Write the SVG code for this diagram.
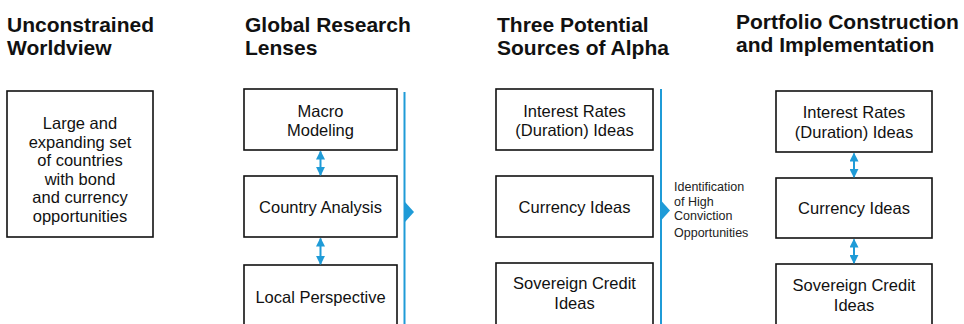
<svg xmlns="http://www.w3.org/2000/svg" width="964" height="324" viewBox="0 0 964 324">
  <style>
    .hd { font-family: "Liberation Sans", Arial, sans-serif; font-weight: bold; font-size: 21px; fill: #111; }
    .tx { font-family: "Liberation Sans", Arial, sans-serif; font-size: 16.5px; fill: #111; text-anchor: middle; }
    .sm { font-family: "Liberation Sans", Arial, sans-serif; font-size: 12.5px; fill: #222; }
    .box { fill: #fff; stroke: #111; stroke-width: 1.6; }
    .rule { stroke: #1f9bd7; stroke-width: 2; fill: none; }
    .link { stroke: #1f9bd7; stroke-width: 2; fill: none; marker-start: url(#ah); marker-end: url(#ah); }
    .tri { fill: #1f9bd7; }
  </style>
  <defs>
    <marker id="ah" viewBox="0 0 10 10" refX="9" refY="5" markerWidth="4.5" markerHeight="4.5" orient="auto-start-reverse" markerUnits="strokeWidth">
      <path d="M0,0 L10,5 L0,10 z" fill="#1f9bd7"/>
    </marker>
  </defs>
  <rect width="964" height="324" fill="#fff"/>

  <!-- column headings -->
  <g id="headings">
    <text class="hd" x="7" y="32">Unconstrained</text>
    <text class="hd" x="7" y="55">Worldview</text>
    <text class="hd" x="245" y="32">Global Research</text>
    <text class="hd" x="245" y="55">Lenses</text>
    <text class="hd" x="497" y="32">Three Potential</text>
    <text class="hd" x="497" y="55">Sources of Alpha</text>
    <text class="hd" x="736" y="29">Portfolio Construction</text>
    <text class="hd" x="736" y="52">and Implementation</text>
  </g>

  <!-- column 1 -->
  <g id="worldview">
    <rect class="box" x="7" y="91" width="146" height="146"/>
    <text class="tx" x="80" y="129">Large and</text>
    <text class="tx" x="80" y="147.5">expanding set</text>
    <text class="tx" x="80" y="166">of countries</text>
    <text class="tx" x="80" y="184.5">with bond</text>
    <text class="tx" x="80" y="203">and currency</text>
    <text class="tx" x="80" y="221.5">opportunities</text>
  </g>

  <!-- column 2 -->
  <g id="macro">
    <rect class="box" x="244" y="89" width="153" height="61"/>
    <text class="tx" x="320.5" y="117">Macro</text>
    <text class="tx" x="320.5" y="136">Modeling</text>
  </g>
  <g id="country">
    <rect class="box" x="244" y="176" width="153" height="61"/>
    <text class="tx" x="320.5" y="213">Country Analysis</text>
  </g>
  <g id="local">
    <rect class="box" x="244" y="265" width="153" height="70"/>
    <text class="tx" x="320.5" y="303">Local Perspective</text>
  </g>

  <!-- column 3 -->
  <g id="alpha-rates">
    <rect class="box" x="496" y="89" width="157" height="61"/>
    <text class="tx" x="574.5" y="117">Interest Rates</text>
    <text class="tx" x="574.5" y="136">(Duration) Ideas</text>
  </g>
  <g id="alpha-currency">
    <rect class="box" x="496" y="176" width="157" height="61"/>
    <text class="tx" x="574.5" y="213">Currency Ideas</text>
  </g>
  <g id="alpha-credit">
    <rect class="box" x="496" y="263" width="157" height="72"/>
    <text class="tx" x="574.5" y="289">Sovereign Credit</text>
    <text class="tx" x="574.5" y="309">Ideas</text>
  </g>
  <g id="conviction-label">
    <text class="sm" x="674" y="191">Identification</text>
    <text class="sm" x="674" y="206">of High</text>
    <text class="sm" x="674" y="220">Conviction</text>
    <text class="sm" x="674" y="237">Opportunities</text>
  </g>

  <!-- column 4 -->
  <g id="port-rates">
    <rect class="box" x="776" y="91" width="156" height="61"/>
    <text class="tx" x="854" y="118">Interest Rates</text>
    <text class="tx" x="854" y="138">(Duration) Ideas</text>
  </g>
  <g id="port-currency">
    <rect class="box" x="776" y="178" width="156" height="60"/>
    <text class="tx" x="854" y="214">Currency Ideas</text>
  </g>
  <g id="port-credit">
    <rect class="box" x="776" y="264" width="156" height="71"/>
    <text class="tx" x="854" y="291">Sovereign Credit</text>
    <text class="tx" x="854" y="311">Ideas</text>
  </g>

  <!-- connectors -->
  <g id="connectors">
    <line class="link" x1="320.5" y1="151.5" x2="320.5" y2="175"/>
    <line class="link" x1="320.5" y1="238.5" x2="320.5" y2="264"/>
    <line class="link" x1="854" y1="153.5" x2="854" y2="177"/>
    <line class="link" x1="854" y1="239.5" x2="854" y2="263"/>
    <line class="rule" x1="404.5" y1="92" x2="404.5" y2="324"/>
    <polygon class="tri" points="405,202 414,212 405,222"/>
    <line class="rule" x1="661" y1="89" x2="661" y2="324"/>
    <polygon class="tri" points="661,200.5 670,210.5 661,220.5"/>
  </g>
</svg>
